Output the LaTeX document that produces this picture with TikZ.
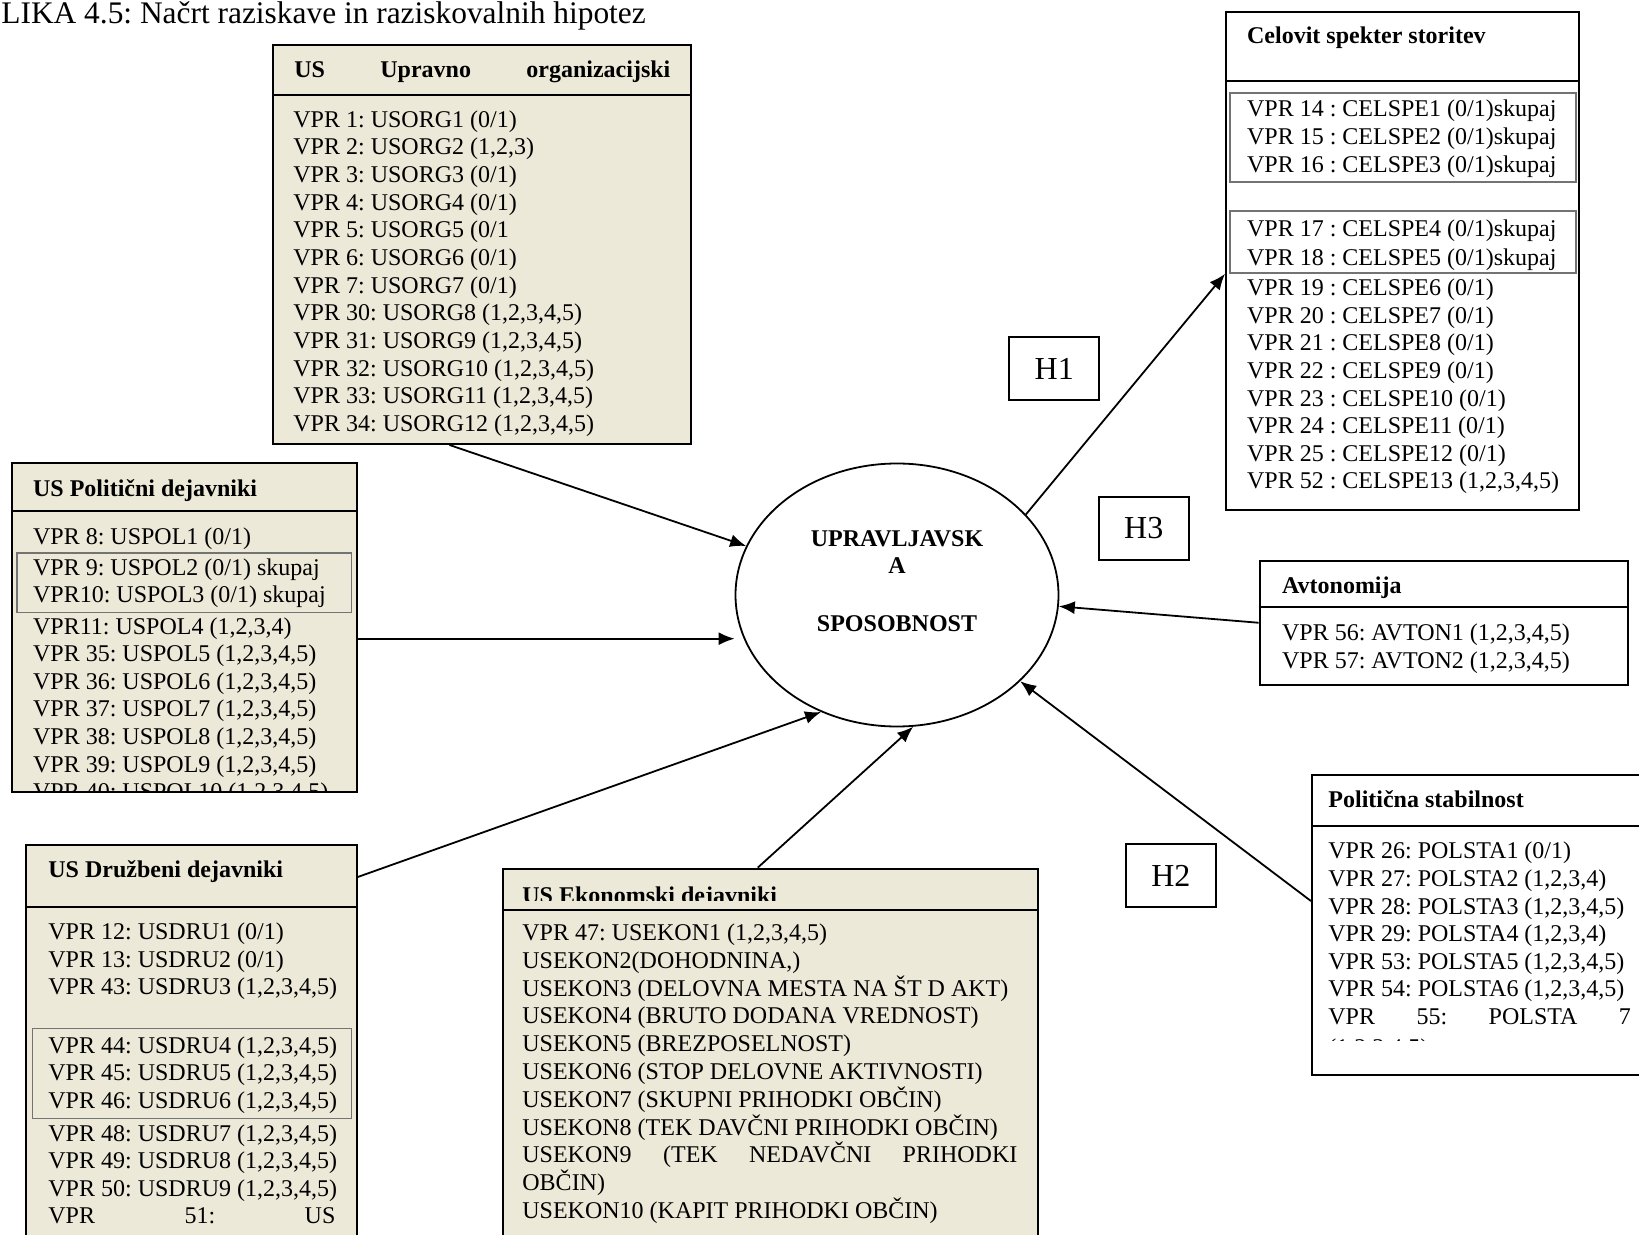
\documentclass[tikz,border=0pt]{standalone}
\usepackage{fontspec}
\setmainfont{Liberation Serif}
\usetikzlibrary{shapes.geometric, arrows.meta}
\definecolor{beige}{HTML}{ECE9D8}
\frenchspacing

\begin{document}
\begin{tikzpicture}[x = 0.5pt, y = -0.5pt, >= {Latex[length = 8pt, width = 6.5pt]},
    box/.style = {draw = black, line width = 1pt, inner sep = 0pt},
    tanbox/.style = {box, fill = beige},
    hbox/.style = {box, fill = white, font = \fontsize{16}{18}\selectfont, minimum width = 44.8pt, minimum height = 31.4pt},
    inbox/.style = {draw = black!55, line width = 0.9pt},
    row/.style = {anchor = base west, inner sep = 0pt, font = \fontsize{12}{14}\selectfont},
    head/.style = {row, font = \fontsize{12}{14}\selectfont\bfseries},
    arr/.style = {->, line width = 0.9pt}]

    \useasboundingbox (0, 0) rectangle (1639, 1235);
    \clip (0, 0) rectangle (1639, 1235);

    \node [anchor = base west, inner sep = 0pt, font = \fontsize{15.7}{18}\selectfont] (title) at (1, 24) {LIKA 4.5: Načrt raziskave in raziskovalnih hipotez};

    % boxes
    \node [tanbox, minimum width = 209pt, minimum height = 199.5pt] (org) at (482, 244.5) {};
    \node [tanbox, minimum width = 172.6pt, minimum height = 164.2pt] (pol) at (184.35, 627.5) {};
    \node [tanbox, minimum width = 165.4pt, minimum height = 207.5pt] (dru) at (191.35, 1052.5) {};
    \node [tanbox, minimum width = 267.6pt, minimum height = 195.7pt] (eko) at (770.4, 1064.3) {};
    \node [box, minimum width = 176.7pt, minimum height = 248.8pt] (cel) at (1402.75, 261.25) {};
    \node [box, minimum width = 184.2pt, minimum height = 61.8pt] (avt) at (1443.8, 622.75) {};
    \node [box, minimum width = 184pt, minimum height = 150pt] (polsta) at (1496, 924.55) {};
    \node [draw = black, ellipse, line width = 0.9pt, minimum width = 161.5pt, minimum height = 131.5pt] (ell) at (897, 595) {};

    \draw [box] (org.west |- 0, 95) -- (org.east |- 0, 95);
    \draw [box] (pol.west |- 0, 511) -- (pol.east |- 0, 511);
    \draw [box] (dru.west |- 0, 906.5) -- (dru.east |- 0, 906.5);
    \draw [box] (eko.west |- 0, 909.5) -- (eko.east |- 0, 909.5);
    \draw [box] (cel.west |- 0, 81) -- (cel.east |- 0, 81);
    \draw [box] (avt.west |- 0, 606.5) -- (avt.east |- 0, 606.5);
    \draw [box] (polsta.west |- 0, 825.5) -- (polsta.east |- 0, 825.5);

    \draw [inbox] (16.7, 553) rectangle (351.5, 612.5);
    \draw [inbox] (32.4, 1028.5) rectangle (351.5, 1118.5);
    \draw [inbox] (1230, 92.7) rectangle (1575.7, 182.3);
    \draw [inbox] (1230, 210.7) rectangle (1575.7, 273.3);

    % headings
    \node [head] (orghead) at (294, 78) {\makebox[188pt]{US\hfill Upravno\hfill organizacijski}};
    \node [head] (polhead) at (32.7, 497) {US Politični dejavniki};
    \node [head] (druhead) at (48, 877) {US Družbeni dejavniki};
    \begin{scope}
        \clip (502.8, 868.6) rectangle (1038, 900);
        \node [head] (ekohead) at (522, 903) {US Ekonomski dejavniki};
    \end{scope}
    \node [head] (celhead) at (1246.7, 44) {Celovit spekter storitev};
    \node [head] (avthead) at (1281.7, 593) {Avtonomija};
    \node [head] (polstahead) at (1328, 807) {Politična stabilnost};

    % rows
    \foreach \txt [count = \i from 0] in {{VPR 1: USORG1 (0/1)}, {VPR 2: USORG2 (1,2,3)}, {VPR 3: USORG3 (0/1)}, {VPR 4: USORG4 (0/1)}, {VPR 5: USORG5 (0/1}, {VPR 6: USORG6 (0/1)}, {VPR 7: USORG7 (0/1)}, {VPR 30: USORG8 (1,2,3,4,5)}, {VPR 31: USORG9 (1,2,3,4,5)}, {VPR 32: USORG10 (1,2,3,4,5)}, {VPR 33: USORG11 (1,2,3,4,5)}, {VPR 34: USORG12 (1,2,3,4,5)}}
        \node [row] (org\i) at (293, 127.2 + 27.65*\i) {\txt};

    \node [row] (pola) at (32.7, 544.3) {VPR 8: USPOL1 (0/1)};
    \foreach \txt [count = \i from 0] in {{VPR 9: USPOL2 (0/1) skupaj}, {VPR10: USPOL3 (0/1) skupaj}}
        \node [row] (polb\i) at (32.7, 575 + 27.5*\i) {\txt};
    \begin{scope}
        \clip (11.7, 511) rectangle (357, 790);
        \foreach \txt [count = \i from 0] in {{VPR11: USPOL4 (1,2,3,4)}, {VPR 35: USPOL5 (1,2,3,4,5)}, {VPR 36: USPOL6 (1,2,3,4,5)}, {VPR 37: USPOL7 (1,2,3,4,5)}, {VPR 38: USPOL8 (1,2,3,4,5)}, {VPR 39: USPOL9 (1,2,3,4,5)}, {VPR 40: USPOL10 (1,2,3,4,5)}}
            \node [row] (polc\i) at (32.7, 634 + 27.6*\i) {\txt};
    \end{scope}

    \foreach \txt [count = \i from 0] in {{VPR 12: USDRU1 (0/1)}, {VPR 13: USDRU2 (0/1)}, {VPR 43: USDRU3 (1,2,3,4,5)}}
        \node [row] (drua\i) at (48, 939.5 + 27.5*\i) {\txt};
    \foreach \txt [count = \i from 0] in {{VPR 44: USDRU4 (1,2,3,4,5)}, {VPR 45: USDRU5 (1,2,3,4,5)}, {VPR 46: USDRU6 (1,2,3,4,5)}}
        \node [row] (drub\i) at (48, 1053.3 + 27.6*\i) {\txt};
    \foreach \txt [count = \i from 0] in {{VPR 48: USDRU7 (1,2,3,4,5)}, {VPR 49: USDRU8 (1,2,3,4,5)}, {VPR 50: USDRU9 (1,2,3,4,5)}, {\makebox[143.5pt]{VPR\hfill 51:\hfill US}}}
        \node [row] (druc\i) at (48, 1141 + 27.6*\i) {\txt};

    \foreach \txt [count = \i from 0] in {{VPR 47: USEKON1 (1,2,3,4,5)}, {USEKON2(DOHODNINA,)}, {USEKON3 (DELOVNA MESTA NA ŠT D AKT)}, {USEKON4 (BRUTO DODANA VREDNOST)}, {USEKON5 (BREZPOSELNOST)}, {USEKON6 (STOP DELOVNE AKTIVNOSTI)}, {USEKON7 (SKUPNI PRIHODKI OBČIN)}, {USEKON8 (TEK DAVČNI PRIHODKI OBČIN)}, {\makebox[247.5pt]{USEKON9\hfill (TEK\hfill NEDAVČNI\hfill PRIHODKI}}, {OBČIN)}, {USEKON10 (KAPIT PRIHODKI OBČIN)}}
        \node [row] (eko\i) at (522, 940.4 + 27.8*\i) {\txt};

    \foreach \txt [count = \i from 0] in {{VPR 14 : CELSPE1 (0/1)skupaj}, {VPR 15 : CELSPE2 (0/1)skupaj}, {VPR 16 : CELSPE3 (0/1)skupaj}}
        \node [row] (cela\i) at (1246.7, 116.8 + 27.7*\i) {\txt};
    \foreach \txt [count = \i from 0] in {{VPR 17 : CELSPE4 (0/1)skupaj}, {VPR 18 : CELSPE5 (0/1)skupaj}}
        \node [row] (celb\i) at (1246.7, 237 + 28.2*\i) {\txt};
    \foreach \txt [count = \i from 0] in {{VPR 19 : CELSPE6 (0/1)}, {VPR 20 : CELSPE7 (0/1)}, {VPR 21 : CELSPE8 (0/1)}, {VPR 22 : CELSPE9 (0/1)}, {VPR 23 : CELSPE10 (0/1)}, {VPR 24 : CELSPE11 (0/1)}, {VPR 25 : CELSPE12 (0/1)}, {VPR 52 : CELSPE13 (1,2,3,4,5)}}
        \node [row] (celc\i) at (1246.7, 295.5 + 27.63*\i) {\txt};

    \node [row] (avt0) at (1281.7, 640) {VPR 56: AVTON1 (1,2,3,4,5)};
    \node [row] (avt1) at (1281.7, 668) {VPR 57: AVTON2 (1,2,3,4,5)};

    \begin{scope}
        \clip (1312, 825.5) rectangle (1639, 1040);
        \foreach \txt [count = \i from 0] in {{VPR 26: POLSTA1 (0/1)}, {VPR 27: POLSTA2 (1,2,3,4)}, {VPR 28: POLSTA3 (1,2,3,4,5)}, {VPR 29: POLSTA4 (1,2,3,4)}, {VPR 53: POLSTA5 (1,2,3,4,5)}, {VPR 54: POLSTA6 (1,2,3,4,5)}, {\makebox[151.3pt]{VPR\hfill 55:\hfill POLSTA\hfill 7}}}
            \node [row] (polsta\i) at (1328, 858.9 + 27.6*\i) {\txt};
        \node [row] (polsta7) at (1328, 1055) {(1,2,3,4,5)};
    \end{scope}

    % centre
    \node [head, anchor = base] (ella) at (897, 546) {UPRAVLJAVSK};
    \node [head, anchor = base] (ellb) at (897, 573.5) {A};
    \node [head, anchor = base] (ellc) at (897, 632) {SPOSOBNOST};

    \node [hbox] (h1) at (1054.25, 368.5) {H1};
    \node [hbox] (h3) at (1143.75, 528.5) {H3};
    \node [hbox] (h2) at (1170.85, 875.75) {H2};

    % arrows
    \coordinate (polout) at ([yshift = -5.6pt]pol.east);
    \draw [arr] ([xshift = -16.25pt]org.south) -- (ell.162);
    \draw [arr] (polout) -- (polout -| ell.west);
    \draw [arr] ([yshift = -16.5pt]dru.north east) -- (ell.237);
    \draw [arr] ([xshift = -6.3pt]eko.north) -- (ell.277);
    \draw [arr] (ell.32) -- ([yshift = -6.3pt]cel.west);
    \draw [arr] (avt.west) -- (ell.356);
    \draw [arr] ([yshift = 11.75pt]polsta.west) -- (ell.325);
\end{tikzpicture}
\end{document}
